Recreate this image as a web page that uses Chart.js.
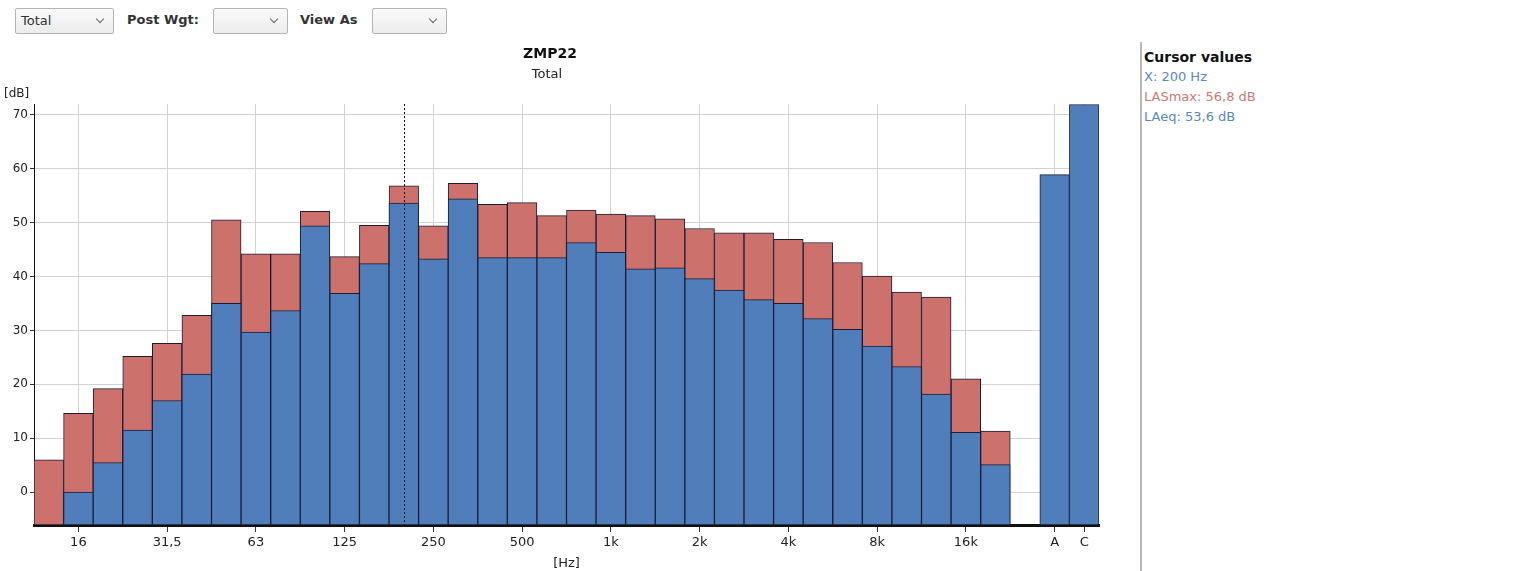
<!DOCTYPE html>
<html>
<head>
<meta charset="utf-8">
<script src="https://cdn.jsdelivr.net/npm/chart.js@4.4.1/dist/chart.umd.min.js"></script>
<style>
  body { margin: 0; background: #fff; font-family: 'DejaVu Sans', sans-serif; }
  #wrap { position: relative; width: 1518px; height: 571px; overflow: hidden; }
  .sel { position: absolute; top: 8px; height: 26px; border: 1px solid #b4b4b4; border-radius: 2px;
         background: linear-gradient(#fafafa, #ececec); box-sizing: border-box; font-size: 13px; color: #333;
         line-height: 24px; padding-left: 5px; }
  .sel::after { content: ''; position: absolute; right: 10px; top: 7px; width: 5px; height: 5px;
         border-right: 1px solid #666; border-bottom: 1px solid #666; transform: rotate(45deg); }
  .lbl { position: absolute; top: 12px; font-size: 13px; font-weight: bold; color: #333; }
  #title { position: absolute; left: 450px; width: 200px; text-align: center; top: 45px; font-size: 14px; font-weight: bold; color: #111; }
  #subtitle { position: absolute; left: 447px; width: 200px; text-align: center; top: 66px; font-size: 13px; color: #222; }
  #ylab { position: absolute; left: 4px; top: 86px; font-size: 12px; color: #222; }
  #panel { position: absolute; left: 1140px; top: 42px; bottom: 0; border-left: 2px solid #b8b8b8; padding-left: 2px; font-size: 13px; }
  #panel div { height: 20px; line-height: 20px; }
  canvas { position: absolute; left: 0; top: 0; }
</style>
</head>
<body>
<div id="wrap">
  <div class="sel" style="left:15px;width:99px;">Total</div>
  <div class="lbl" style="left:127px;">Post Wgt:</div>
  <div class="sel" style="left:213px;width:75px;"></div>
  <div class="lbl" style="left:300px;">View As</div>
  <div class="sel" style="left:372px;width:75px;"></div>

  <canvas id="chart" width="1138" height="571"></canvas>

  <div id="title">ZMP22</div>
  <div id="subtitle">Total</div>
  <div id="ylab">[dB]</div>

  <div id="panel">
    <div style="font-weight:bold;color:#111;font-size:14px;margin-top:5px;">Cursor values</div>
    <div style="color:#5b87c0;">X: 200 Hz</div>
    <div style="color:#c97a75;">LASmax: 56,8 dB</div>
    <div style="color:#5b87c0;">LAeq: 53,6 dB</div>
  </div>
</div>

<script>
// 1/3 octave bands, then an empty slot, then the A and C totals
const bands = ['12,5', '16', '20', '25', '31,5', '40', '50', '63', '80', '100', '125', '160',
  '200', '250', '315', '400', '500', '630', '800', '1k', '1,25k', '1,6k', '2k', '2,5k',
  '3,15k', '4k', '5k', '6,3k', '8k', '10k', '12,5k', '16k', '20k', '', 'A', 'C'];

const tickLabels = ['16', '31,5', '63', '125', '250', '500', '1k', '2k', '4k', '8k', '16k', 'A', 'C'];

const lasMax = [6.0, 14.6, 19.2, 25.2, 27.6, 32.8, 50.5, 44.2, 44.2, 52.1, 43.7, 49.5,
  56.8, 49.4, 57.3, 53.4, 53.7, 51.3, 52.3, 51.6, 51.3, 50.7, 48.9, 48.1,
  48.1, 46.9, 46.3, 42.6, 40.1, 37.1, 36.2, 21.0, 11.3, null, null, null];

const laEq = [null, 0.0, 5.5, 11.5, 17.0, 21.9, 35.0, 29.7, 33.7, 49.4, 36.9, 42.4,
  53.6, 43.3, 54.4, 43.5, 43.5, 43.5, 46.3, 44.5, 41.4, 41.6, 39.6, 37.5,
  35.7, 35.0, 32.2, 30.2, 27.1, 23.3, 18.2, 11.1, 5.1, null, 58.9, 71.9];

const cursorBand = '200';

const Y_MIN = -6.1;
const Y_MAX = 72;
const BLUE = '#4f7ebb';
const RED = '#cd716c';
const EDGE = '#1b1d36';
const GRID = '#d2d2d2';
const CLEAR = 'rgba(0,0,0,0)';

const showTick = (i) => tickLabels.includes(bands[i]);

// dotted cursor line at the selected band
const cursorPlugin = {
  id: 'cursor',
  afterDatasetsDraw(chart) {
    const x = chart.scales.x.getPixelForValue(bands.indexOf(cursorBand));
    const { top, bottom } = chart.chartArea;
    const ctx = chart.ctx;
    ctx.save();
    ctx.strokeStyle = '#111';
    ctx.lineWidth = 1;
    ctx.setLineDash([2, 2]);
    ctx.beginPath();
    ctx.moveTo(Math.round(x) + 0.5, top);
    ctx.lineTo(Math.round(x) + 0.5, bottom);
    ctx.stroke();
    ctx.restore();
  }
};

const barStyle = {
  base: Y_MIN,
  grouped: false,
  categoryPercentage: 1,
  barPercentage: 1,
  borderWidth: 1,
  borderColor: EDGE,
  borderSkipped: false,
};

new Chart(document.getElementById('chart'), {
  type: 'bar',
  data: {
    labels: bands,
    datasets: [
      { label: 'LAeq', data: laEq, backgroundColor: BLUE, ...barStyle },
      { label: 'LASmax', data: lasMax, backgroundColor: RED, ...barStyle },
    ],
  },
  options: {
    animation: false,
    responsive: false,
    layout: { padding: { left: 0, right: 39, top: 104, bottom: 0 } },
    plugins: { legend: { display: false }, tooltip: { enabled: false } },
    scales: {
      x: {
        afterFit: (s) => { s.height = 46; },
        grid: {
          offset: false,
          color: (c) => showTick(c.index) ? GRID : CLEAR,
          tickColor: (c) => showTick(c.index) ? '#333' : CLEAR,
          tickLength: 7,
        },
        border: { color: '#111', width: 3 },
        ticks: {
          autoSkip: false,
          maxRotation: 0,
          padding: 3,
          color: '#222',
          font: { family: 'DejaVu Sans', size: 13 },
          callback: (v, i) => showTick(i) ? bands[i] : '',
        },
        title: {
          display: true,
          text: '[Hz]',
          color: '#222',
          font: { family: 'DejaVu Sans', size: 13 },
          padding: { top: 0, bottom: 0 },
        },
      },
      y: {
        min: Y_MIN,
        max: Y_MAX,
        afterFit: (s) => { s.width = 34; },
        afterBuildTicks: (s) => {
          s.ticks = [0, 10, 20, 30, 40, 50, 60, 70].map((v) => ({ value: v }));
        },
        grid: { color: GRID, tickColor: '#333', tickLength: 4 },
        border: { color: '#111', width: 1 },
        ticks: {
          padding: 2,
          color: '#222',
          font: { family: 'DejaVu Sans', size: 12 },
        },
      },
    },
  },
  plugins: [cursorPlugin],
});
</script>
</body>
</html>
